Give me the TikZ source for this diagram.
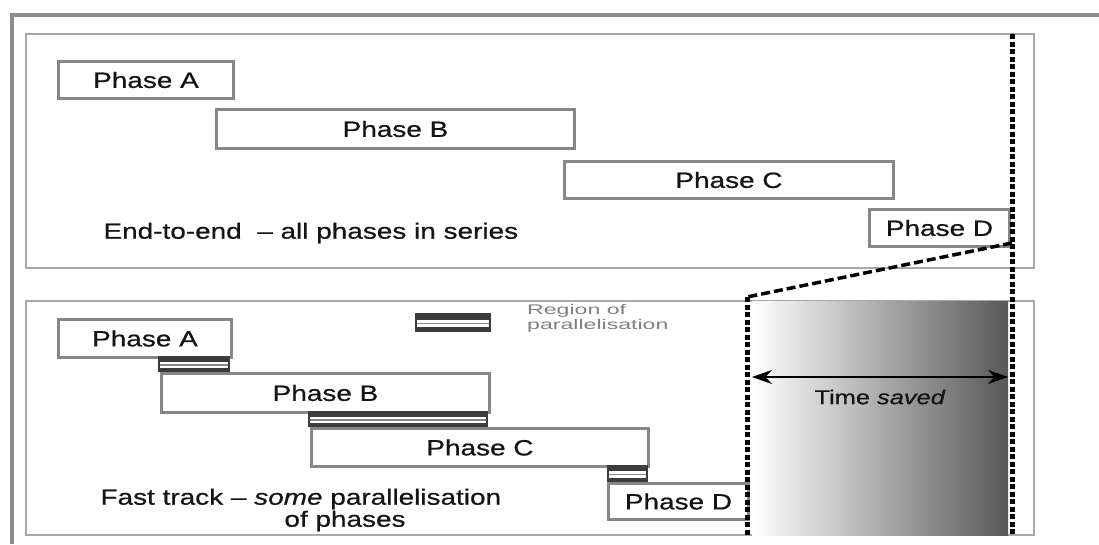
\documentclass[tikz,border=0pt]{standalone}
\usepackage{fontspec}
\setmainfont{Liberation Sans}[FakeStretch=1.27, FakeBold=0.7]
\newfontfamily\legendfont{Liberation Sans}[FakeStretch=1.65]
\usetikzlibrary{arrows.meta}
\definecolor{framegray}{RGB}{140,140,140}
\definecolor{panelgray}{RGB}{168,168,168}
\definecolor{boxgray}{RGB}{135,135,135}
\definecolor{bardark}{RGB}{60,60,60}
\definecolor{textgray}{RGB}{20,20,20}
\definecolor{shadeend}{RGB}{88,88,88}

\begin{document}
\begin{tikzpicture}[x=1pt,y=-1pt,
    panel/.style={draw=panelgray, line width=1.5pt},
    phasebox/.style={draw=boxgray, line width=3pt, fill=white, text=textgray,
      font=\fontsize{22}{26}\selectfont, anchor=north west, inner sep=0pt},
    cutline/.style={line width=5pt, dash pattern=on 5pt off 2.5pt},
    slantline/.style={line width=3.5pt, dash pattern=on 9pt off 4pt},
    label/.style={text=textgray, font=\fontsize{22}{24}\selectfont}]

    \useasboundingbox (0,0) rectangle (1099,544);
    \fill[white] (0,0) rectangle (1099,544);

    % outer frame and the two panels
    \draw[framegray, line width=4pt] (12,544) -- (12,15) -- (1099,15);
    \draw[panel] (26,34) rectangle (1034,268);
    \draw[panel] (26,301) rectangle (1034,535);

    % time saved band
    \shade[left color=white, right color=shadeend] (752,301) rectangle (1008,535);

    % end-to-end
    \node[phasebox, minimum width=175pt, minimum height=37pt] (tA) at (57,60) {Phase A};
    \node[phasebox, minimum width=358pt, minimum height=39pt] (tB) at (215,108) {Phase B};
    \node[phasebox, minimum width=329pt, minimum height=37pt] (tC) at (563,160) {Phase C};
    \node[phasebox, minimum width=140pt, minimum height=37pt] (tD) at (868,208) {Phase D};

    % fast track
    \node[phasebox, minimum width=173pt, minimum height=38pt] (bA) at (57,318) {Phase A};
    \node[phasebox, minimum width=328pt, minimum height=39pt] (bB) at (160,372) {Phase B};
    \node[phasebox, minimum width=337pt, minimum height=38pt] (bC) at (310,427) {Phase C};
    \node[phasebox, minimum width=140pt, minimum height=36pt] (bD) at (607,482) {Phase D};

    % regions of parallelisation
    \foreach \xa/\ya/\xb/\yb in {158/356/230/372, 308/411/488/427, 607/465/648/482, 415/313/491/332}{
        \fill[bardark] (\xa,\ya) rectangle (\xb,\yb);
        \fill[white] (\xa+2,{\ya+0.35*(\yb-\ya)}) rectangle (\xb-2,{\ya+0.75*(\yb-\ya)});
        \draw[boxgray, line width=1.5pt] (\xa+2,{\ya+0.55*(\yb-\ya)}) -- (\xb-2,{\ya+0.55*(\yb-\ya)});
    }

    % cut lines
    \coordinate (rTop) at (1012,34);
    \coordinate (rMid) at (1012,243);
    \coordinate (rBot) at (1012,535);
    \coordinate (lTop) at (747,297);
    \coordinate (lBot) at (747,535);
    \draw[cutline] (rTop) -- (rBot);
    \draw[cutline] (lTop) -- (lBot);
    \draw[slantline] (rMid) -- (lTop);

    \coordinate (sL) at (752,377);
    \coordinate (sR) at (1008,377);
    \draw[line width=2.5pt, {Stealth[length=20pt,width=14pt]}-{Stealth[length=20pt,width=14pt]}] (sL) -- (sR);

    % texts
    \node[label, anchor=west] (ete) at (100,233) {End-to-end~~-- all phases in series};
    \node[label, anchor=west] (fast) at (97,499) {Fast track -- \textit{some} parallelisation};
    \node[label] (fastb) at (345,521) {of phases};
    \node[text=textgray, font=\fontsize{20}{24}\selectfont] (saved) at (880,397) {Time \textit{saved}};
    \node[text=gray, font=\legendfont\fontsize{14}{15}\selectfont, anchor=north west, align=left, inner sep=0pt] (legend) at (527,304) {Region of\\parallelisation};

\end{tikzpicture}
\end{document}
